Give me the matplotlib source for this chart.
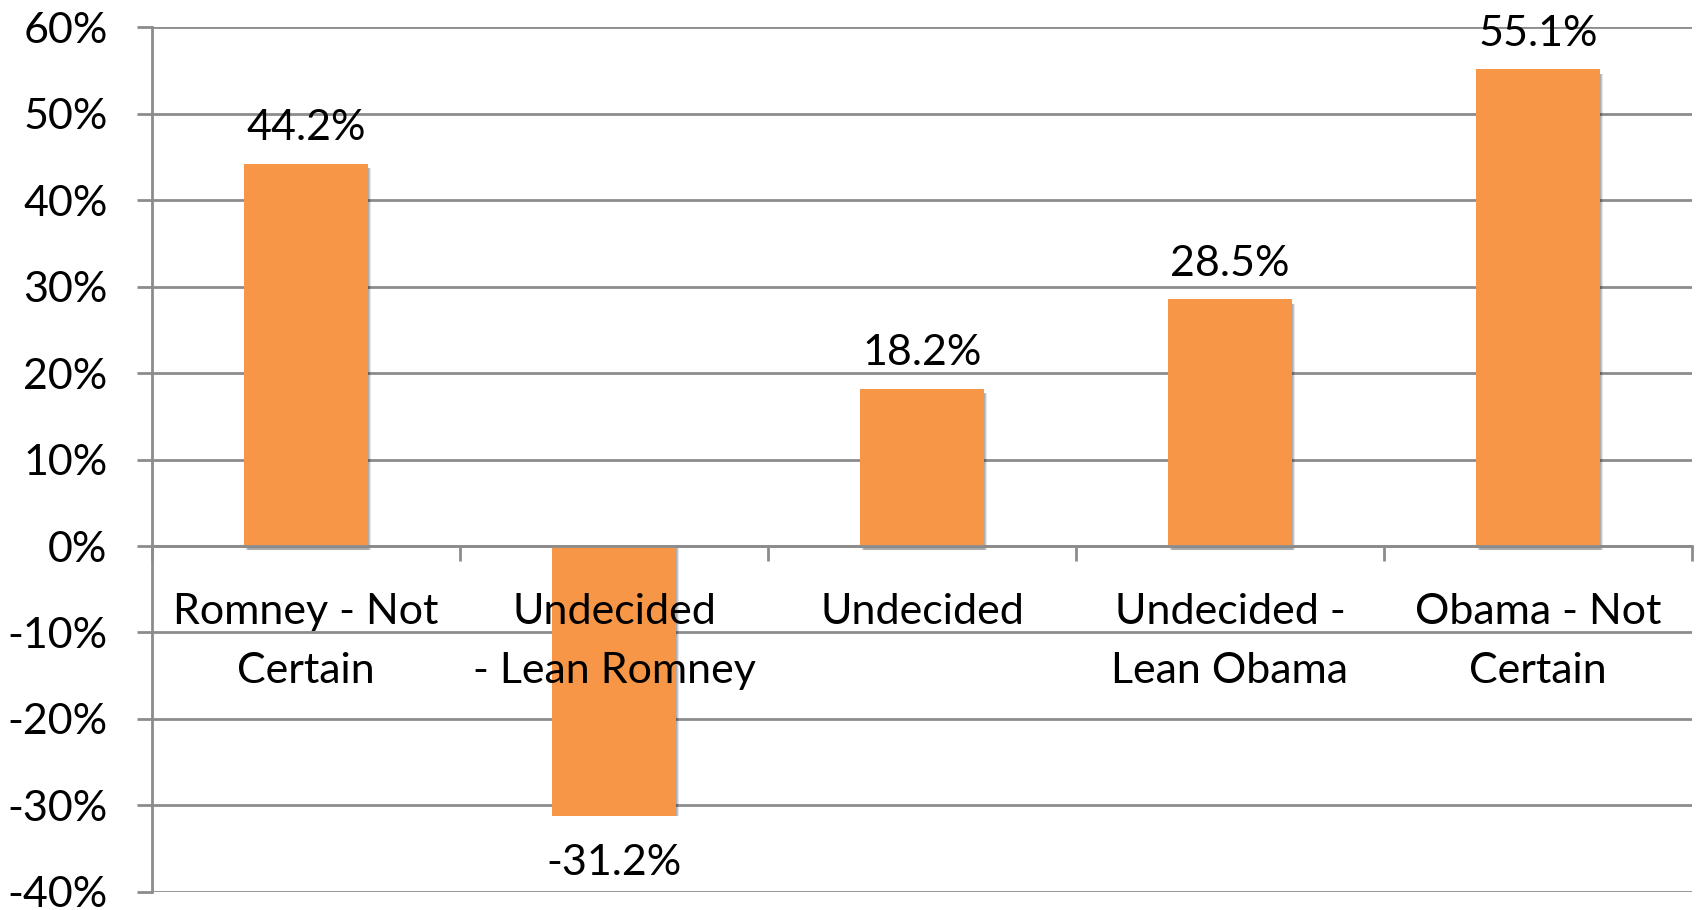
import numpy as np
import matplotlib.pyplot as plt
from matplotlib.ticker import FuncFormatter

# data
categories = ["Romney - Not\nCertain", "Undecided\n- Lean Romney", "Undecided",
              "Undecided -\nLean Obama", "Obama - Not\nCertain"]
values = [44.2, -31.2, 18.2, 28.5, 55.1]

plt.rcParams['font.family'] = ['Lato', 'DejaVu Sans']

fig = plt.figure(figsize=(16.96, 9.10), dpi=100)
ax = fig.add_axes([0.0896, 0.0198, 0.9080, 0.9505])

x = np.arange(len(values))
vals = np.array(values)
bar_color = "#F79646"

# soft shadow behind bars
for off, a in [(0.012, 0.10), (0.008, 0.12), (0.004, 0.15)]:
    ax.bar(x + off, vals, width=0.4, color="black", alpha=a, zorder=2,
           bottom=np.where(vals > 0, -0.5, 0.0))
ax.bar(x, vals, width=0.4, color=bar_color, zorder=3)

# value labels
for xi, v in zip(x, values):
    y = v + 4.1 if v >= 0 else v - 5.4
    ax.text(xi, y, f"{v:.1f}%", ha="center", va="center", fontsize=31, zorder=6)

ax.set_xlim(-0.5, len(values) - 0.5)
ax.set_ylim(-40, 60)
ax.set_yticks(np.arange(-40, 61, 10))
ax.yaxis.set_major_formatter(FuncFormatter(lambda v, p: f"{v:.0f}%"))

grid_c = "#8c8c8c"
ax.yaxis.grid(True, color=grid_c, linewidth=2, zorder=1)
ax.set_axisbelow(True)

for s in ["top", "right"]:
    ax.spines[s].set_visible(False)
ax.spines["left"].set_color(grid_c)
ax.spines["left"].set_linewidth(2)
ax.spines["bottom"].set_position(("data", 0))
ax.spines["bottom"].set_color(grid_c)
ax.spines["bottom"].set_linewidth(2)
ax.spines["bottom"].set_zorder(4)

ax.tick_params(axis="y", length=11, width=2, color=grid_c, pad=21, labelsize=31)

# category boundaries get tick marks; category names drawn on top of the bars
ax.set_xticks(np.arange(len(values) + 1) - 0.5)
ax.set_xticklabels([])
ax.tick_params(axis="x", length=11, width=2, color=grid_c, direction="out")

line_y = [-7.6, -14.4]
for xi, name in zip(x, categories):
    for k, line in enumerate(name.split("\n")):
        ax.text(xi, line_y[k], line, ha="center", va="center", fontsize=31, zorder=6)

fig.savefig("out.png", dpi=100, facecolor="white")
